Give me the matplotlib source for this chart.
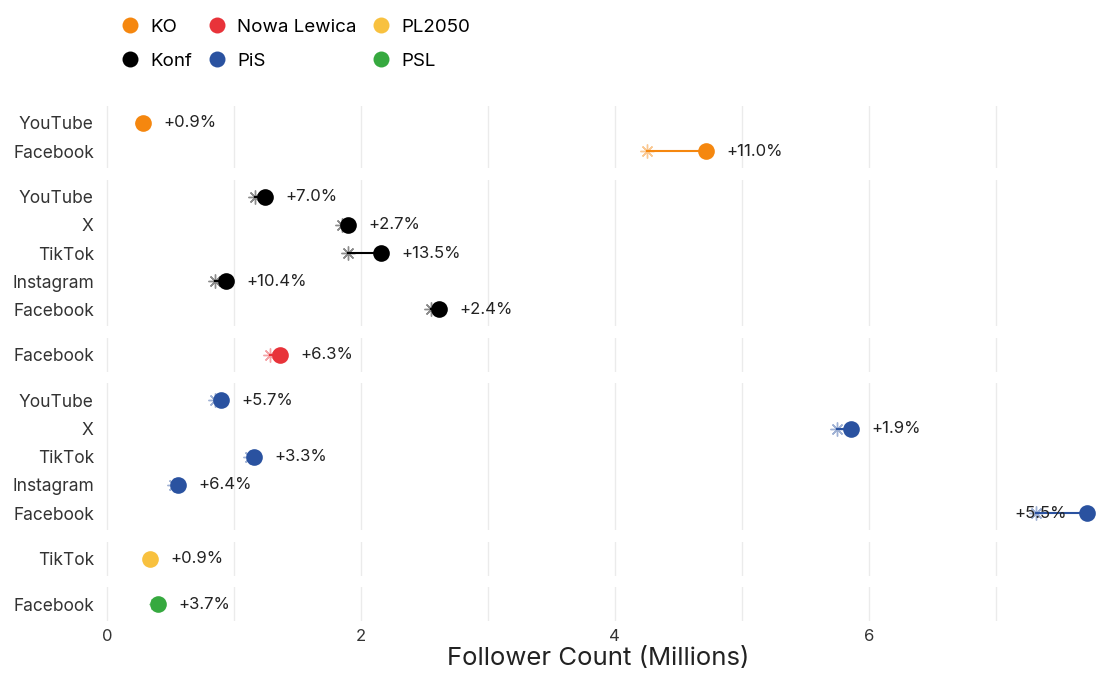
"""follower growth per party and platform, previous (asterisk) vs current (dot)"""

import numpy as np
import matplotlib
matplotlib.use("Agg")
import matplotlib.pyplot as plt
from matplotlib.lines import Line2D

plt.rcParams['font.family'] = ['Inter', 'DejaVu Sans']

# party order as it appears top to bottom
party_order = ["KO", "Konf", "Nowa Lewica", "PiS", "PL2050", "PSL"]
party_colors = {"KO": "#F5870F", "Konf": "#000000", "Nowa Lewica": "#E8333A",
                "PiS": "#2A52A0", "PL2050": "#F8C13F", "PSL": "#36A93F"}

parties = ["KO", "KO",
           "Konf", "Konf", "Konf", "Konf", "Konf",
           "Nowa Lewica",
           "PiS", "PiS", "PiS", "PiS", "PiS",
           "PL2050",
           "PSL"]
platforms = ["YouTube", "Facebook",
             "YouTube", "X", "TikTok", "Instagram", "Facebook",
             "Facebook",
             "YouTube", "X", "TikTok", "Instagram", "Facebook",
             "TikTok",
             "Facebook"]
# follower counts in millions
previous = [0.277, 4.25,
            1.163, 1.85, 1.90, 0.849, 2.553,
            1.28,
            0.851, 5.75, 1.123, 0.526, 7.32,
            0.337,
            0.386]
current = [0.28, 4.72,
           1.245, 1.90, 2.16, 0.937, 2.615,
           1.36,
           0.90, 5.86, 1.16, 0.56, 7.72,
           0.34,
           0.40]
growth = [0.9, 11.0,
          7.0, 2.7, 13.5, 10.4, 2.4,
          6.3,
          5.7, 1.9, 3.3, 6.4, 5.5,
          0.9,
          3.7]

xmin, xmax = -0.05, 7.79

counts = [parties.count(p) for p in party_order]
fig = plt.figure(figsize=(10.96, 6.79), dpi=100)
gs = fig.add_gridspec(len(party_order), 1, height_ratios=[n + 0.2 for n in counts],
                      left=0.092, right=1.0, top=1 - 106 / 679, bottom=1 - 621 / 679,
                      hspace=0.152)

for i, party in enumerate(party_order):
    ax = fig.add_subplot(gs[i])
    idx = [j for j, p in enumerate(parties) if p == party]
    n = len(idx)
    col = party_colors[party]
    labels = []
    for k, j in enumerate(idx):
        y = n - 1 - k  # first one on top
        labels.append((y, platforms[j]))
        ax.plot([previous[j], current[j]], [y, y], color=col, lw=1.5, zorder=2)
        ax.plot(previous[j], y, marker=(8, 2, 0), ms=10, mew=1.0,
                color=col, alpha=0.45, zorder=3, linestyle='none')
        ax.plot(current[j], y, marker='o', ms=12, color=col, mec='none', zorder=4,
                linestyle='none')
        tx = min(current[j] + 0.16, xmax - 0.64)
        ax.text(tx, y, "+%.1f%%" % growth[j], va='center', ha='left',
                fontsize=12, color='#222222', zorder=5)
    ax.set_yticks([l[0] for l in labels])
    ax.set_yticklabels([l[1] for l in labels], fontsize=12.5, color='#333333')
    ax.set_ylim(-0.6, n - 1 + 0.6)
    ax.set_xlim(xmin, xmax)
    ax.set_xticks([0, 2, 4, 6])
    ax.set_xticks([1, 3, 5, 7], minor=True)
    ax.grid(axis='x', which='both', color='#ebebeb', lw=1.0, zorder=0)
    ax.set_axisbelow(True)
    for s in ax.spines.values():
        s.set_visible(False)
    ax.tick_params(axis='both', which='both', length=0)
    ax.tick_params(axis='y', pad=5)
    if i < len(party_order) - 1:
        ax.set_xticklabels([])
    else:
        ax.tick_params(axis='x', labelsize=12, labelcolor='#333333', pad=6)
        ax.set_xlabel("Follower Count (Millions)", fontsize=18.5, color='#222222',
                      labelpad=2)

handles = [Line2D([], [], marker='o', ms=11.5, color=party_colors[p], mec='none',
                  linestyle='none', label=p) for p in party_order]
fig.legend(handles=handles, ncol=3, loc='upper left', bbox_to_anchor=(0.093, 0.997),
           frameon=False, fontsize=13.5, handletextpad=0.5, columnspacing=0.68,
           labelspacing=0.9, handlelength=1.2)

fig.savefig("out.png", dpi=100)
